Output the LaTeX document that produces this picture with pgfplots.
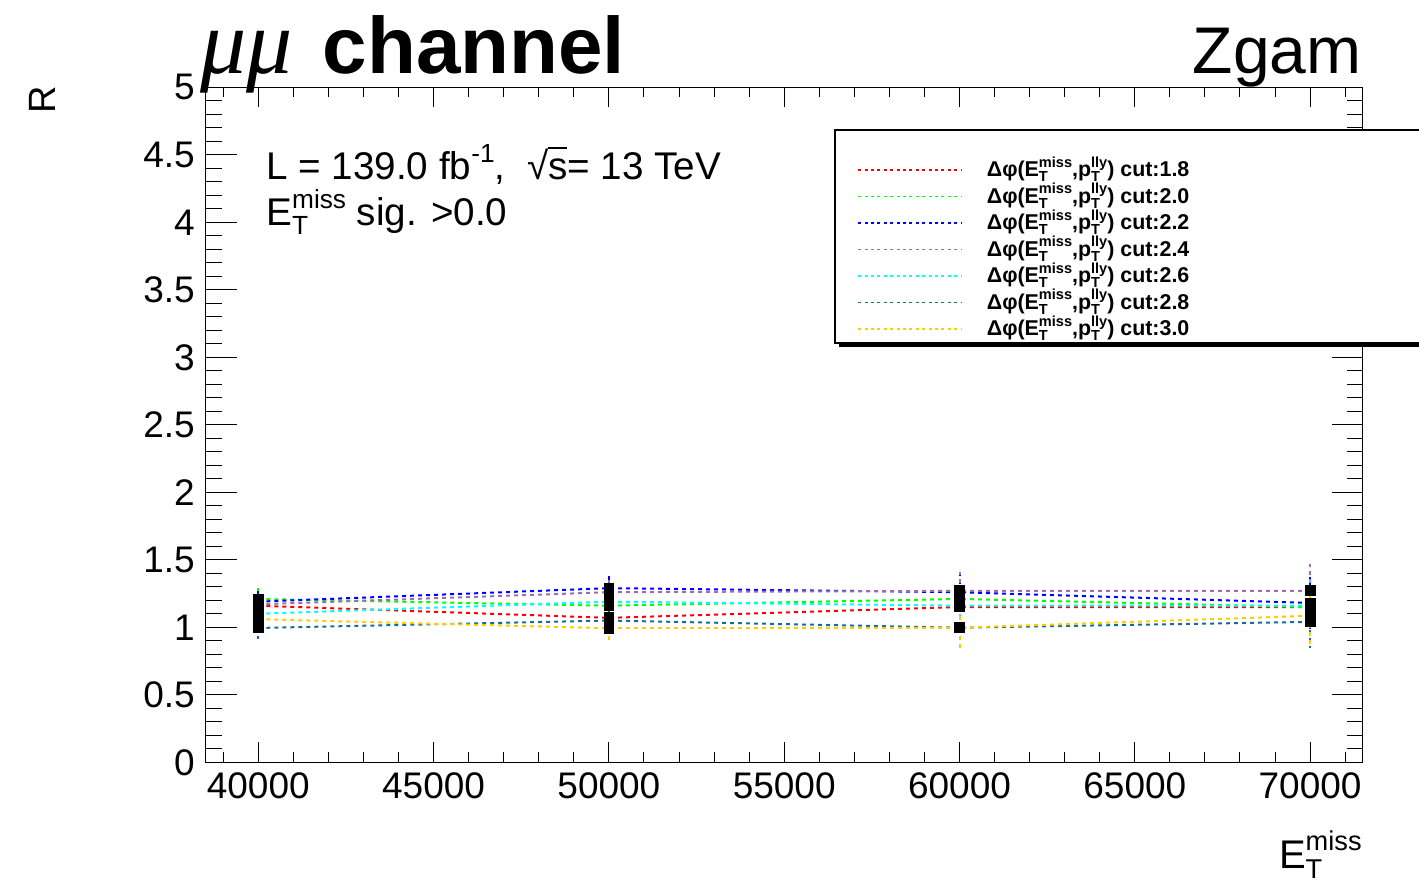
\documentclass[border=0pt]{standalone}
\usepackage{fontspec}
\setmainfont{Liberation Sans}
\newfontfamily\serifit{Liberation Serif}
\usepackage{pgfplots}
\pgfplotsset{compat=1.18}
\definecolor{cRed}{RGB}{255,0,0}
\definecolor{cGreen}{RGB}{0,255,0}
\definecolor{cBlue}{RGB}{0,0,255}
\definecolor{cPurple}{RGB}{153,112,171}
\definecolor{cCyan}{RGB}{0,255,255}
\definecolor{cTeal}{RGB}{22,110,150}
\definecolor{cGold}{RGB}{255,204,0}
\makeatletter
\newcommand\SupSub[2]{{%
  \dimen@=\f@size pt\relax
  \dimen@=0.68\dimen@
  \edef\ss@sz{\the\dimen@}%
  \setbox\z@\hbox{\fontsize{\ss@sz}{\ss@sz}\selectfont #1}%
  \setbox\tw@\hbox{\fontsize{\ss@sz}{\ss@sz}\selectfont #2}%
  \dimen@\wd\z@ \ifdim\wd\tw@>\dimen@ \dimen@\wd\tw@\fi
  \rlap{\raise0.45em\box\z@}\rlap{\lower0.23em\box\tw@}\kern\dimen@}}
\newcommand\Sup[1]{{%
  \dimen@=\f@size pt\relax \dimen@=0.68\dimen@ \edef\ss@sz{\the\dimen@}%
  \raise0.45em\hbox{\fontsize{\ss@sz}{\ss@sz}\selectfont #1}}}
\makeatother
\newcommand\sqrts{√\kern-0.02em\setbox0\hbox{s}\rlap{\rule[0.8em]{\wd0}{0.05em}}s}
\newcommand\dphi[1]{Δφ(E\SupSub{miss}{T},p\SupSub{lly}{T}) cut:#1}
\pgfplotsset{
  ser/.style={color=#1, line width=1pt, dash pattern=on 2pt off 2pt,
    mark=square*, mark size=2.2pt, mark options={solid, fill=black, draw=black},
    error bars/.cd, y dir=both, y explicit, error mark=none,
    error bar style={line width=1pt, dash pattern=on 2pt off 2pt}},
}
\begin{document}
\begin{tikzpicture}
\useasboundingbox (0,0) rectangle (709.5pt,441pt);
% x-tick axis
\begin{axis}[at={(102.85pt,59.85pt)}, anchor=south west, scale only axis,
  width=578.5pt, height=337.5pt,
  xmin=38500, xmax=71500, ymin=0, ymax=5,
  ytick=\empty,
  xtick={40000,45000,50000,55000,60000,65000,70000},
  minor xtick={39000,40000,...,71000},
  tick align=inside, major tick length=10pt, minor tick length=5pt,
  axis line style={line width=0.65pt},
  tick style={black, line width=0.5pt},
  scaled x ticks=false,
  xticklabel style={font=\fontsize{18.5}{20}\selectfont, inner sep=0pt, yshift=-5pt},
  /pgf/number format/1000 sep={},
  /pgf/number format/assume math mode=true]
\end{axis}
% data axis
\begin{axis}[at={(102.85pt,59.85pt)}, anchor=south west, scale only axis,
  width=578.5pt, height=337.5pt,
  xmin=38500, xmax=71500, ymin=0, ymax=5,
  xtick=\empty,
  ytick={0,0.5,1,1.5,2,2.5,3,3.5,4,4.5,5},
  minor y tick num=4,
  tick align=inside, major tick length=15.5pt, minor tick length=8pt,
  axis line style={line width=0.65pt},
  tick style={black, line width=0.5pt},
  yticklabel style={font=\fontsize{18.5}{20}\selectfont, inner sep=0pt, xshift=-5.3pt},
  /pgf/number format/assume math mode=true,
  clip=false,
  legend cell align=left,
  legend image code/.code={\draw[#1, line width=0.75pt, dash pattern=on 1.5pt off 1.7pt] (0pt,0pt) -- (51.5pt,0pt);},
  legend style={at={(0.5629,0.9367)}, anchor=north west, draw=none, fill=none,
    inner sep=0pt, row sep=0pt, font=\fontsize{10.7}{11}\selectfont\bfseries,
    nodes={inner sep=0pt, text height=10pt, text depth=3.25pt},
    /tikz/every odd column/.append style={column sep=12.5pt}},
]
\fill[black] ([xshift=2pt,yshift=-2pt]axis description cs:0.5439,0.9367) rectangle ([xshift=2pt,yshift=-2pt]axis description cs:1.08,0.6212);
\filldraw[fill=white, draw=black, line width=0.6pt] (axis description cs:0.5439,0.9367) rectangle (axis description cs:1.08,0.6212);
\addlegendimage{empty legend}\addlegendentry{~}
\addplot[ser=cRed] coordinates {(40000,1.16) +- (0,0.08) (50000,1.07) +- (0,0.10) (60000,1.15) +- (0,0.14) (70000,1.15) +- (0,0.19)};
\addlegendentry{\dphi{1.8}}
\addplot[ser=cGreen] coordinates {(40000,1.21) +- (0,0.08) (50000,1.16) +- (0,0.10) (60000,1.21) +- (0,0.14) (70000,1.15) +- (0,0.19)};
\addlegendentry{\dphi{2.0}}
\addplot[ser=cBlue] coordinates {(40000,1.19) +- (0,0.08) (50000,1.29) +- (0,0.10) (60000,1.26) +- (0,0.14) (70000,1.18) +- (0,0.19)};
\addlegendentry{\dphi{2.2}}
\addplot[ser=cPurple] coordinates {(40000,1.17) +- (0,0.08) (50000,1.26) +- (0,0.10) (60000,1.27) +- (0,0.14) (70000,1.27) +- (0,0.20)};
\addlegendentry{\dphi{2.4}}
\addplot[ser=cCyan] coordinates {(40000,1.10) +- (0,0.08) (50000,1.19) +- (0,0.10) (60000,1.16) +- (0,0.14) (70000,1.16) +- (0,0.19)};
\addlegendentry{\dphi{2.6}}
\addplot[ser=cTeal] coordinates {(40000,0.995) +- (0,0.08) (50000,1.05) +- (0,0.10) (60000,0.997) +- (0,0.14) (70000,1.04) +- (0,0.19)};
\addlegendentry{\dphi{2.8}}
\addplot[ser=cGold] coordinates {(40000,1.06) +- (0,0.09) (50000,0.993) +- (0,0.11) (60000,0.997) +- (0,0.15) (70000,1.085) +- (0,0.22)};
\addlegendentry{\dphi{3.0}}
\end{axis}
% texts
\node[anchor=base west, inner sep=0pt] at (100pt,404pt) {{\fontsize{46}{46}\selectfont\serifit\itshape μμ}\hspace{15pt}{\fontsize{40}{40}\selectfont\bfseries channel}};
\node[anchor=base east, inner sep=0pt] at (681pt,404pt) {\fontsize{33}{33}\selectfont Zgam};
\node[anchor=base west, inner sep=0pt] at (133pt,351pt) {\fontsize{19.3}{20}\selectfont L = 139.0 fb\Sup{-1},\hspace{0.3em} \sqrts= 13 TeV};
\node[anchor=base west, inner sep=0pt] at (133pt,328pt) {\fontsize{19.3}{20}\selectfont E\SupSub{miss}{T} sig. >0.0};
\node[rotate=90, inner sep=0pt] at (21pt,391pt) {\fontsize{19}{20}\selectfont R};
\node[anchor=base east, inner sep=0pt] at (681pt,6.5pt) {\fontsize{20}{20}\selectfont E\SupSub{miss}{T}};
\end{tikzpicture}
\end{document}
